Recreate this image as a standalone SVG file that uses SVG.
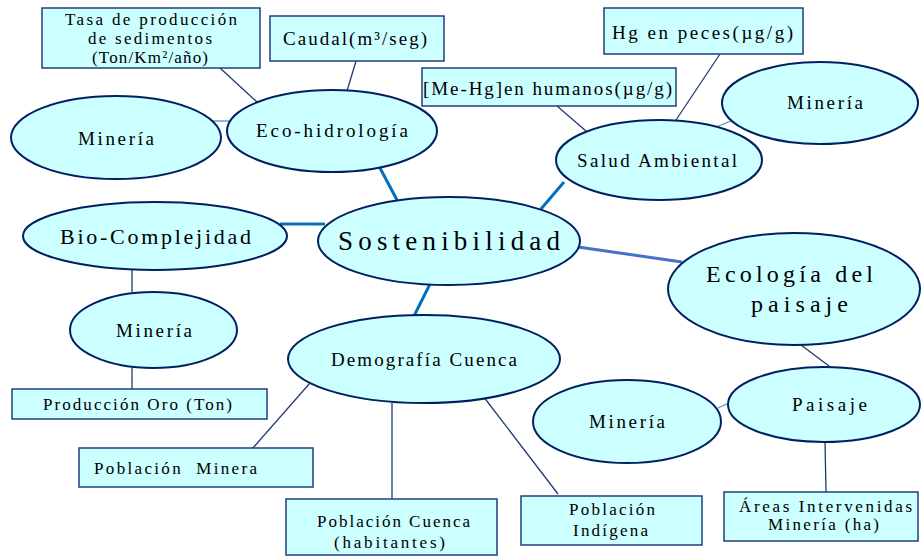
<svg xmlns="http://www.w3.org/2000/svg" width="922" height="558" viewBox="0 0 922 558">
<style>
.n{fill:#CCFFFF;stroke:#002060;stroke-width:2}
.b{fill:#CCFFFF;stroke:#1F3F7F;stroke-width:1.5}
.t{font-family:"Liberation Serif","DejaVu Serif",serif;fill:#000;white-space:pre}
.s16{font-size:17px}
.s18{font-size:19px}
.thick{stroke:#0070C0;stroke-width:3;fill:none}
.mid{stroke:#4472C4;stroke-width:3;fill:none}
.thin{stroke:#1F3B73;stroke-width:1.3;fill:none}
.light{stroke:#5B8BD0;stroke-width:1.3;fill:none}
</style>
<rect width="922" height="558" fill="#fff"/>
<g id="connectors">
<line class="thick" x1="380" y1="168" x2="397" y2="200"/>
<line class="thick" x1="564" y1="182" x2="541" y2="209"/>
<line class="thick" x1="280" y1="224" x2="325" y2="224"/>
<line class="thick" x1="430" y1="284" x2="414" y2="316"/>
<line class="mid" x1="578" y1="247" x2="682" y2="262"/>
<line class="thin" x1="220" y1="68" x2="257" y2="102"/>
<line class="thin" x1="356" y1="61" x2="347" y2="91"/>
<line class="light" x1="212" y1="121" x2="231" y2="121"/>
<line class="thin" x1="557" y1="106" x2="586" y2="131"/>
<line class="thin" x1="720" y1="54" x2="676" y2="120"/>
<line class="light" x1="716" y1="127" x2="731" y2="121"/>
<line class="thin" x1="132" y1="270" x2="132" y2="292"/>
<line class="thin" x1="132" y1="368" x2="132" y2="389"/>
<line class="thin" x1="310" y1="383" x2="252" y2="449"/>
<line class="thin" x1="392" y1="403" x2="392" y2="499"/>
<line class="thin" x1="483" y1="396" x2="558" y2="494"/>
<line class="thin" x1="801" y1="345" x2="829" y2="366"/>
<line class="light" x1="718" y1="408" x2="731" y2="402"/>
<line class="thin" x1="825" y1="442" x2="826" y2="492"/>
</g>
<g id="tasa"><rect class="b" x="42" y="8" width="218" height="60"/>
<text class="t s16" x="65" y="25" textLength="172" lengthAdjust="spacing">Tasa de producción</text>
<text class="t s16" x="88" y="44" textLength="124" lengthAdjust="spacing">de sedimentos</text>
<text class="t s16" x="92" y="63" textLength="116" lengthAdjust="spacing">(Ton/Km²/año)</text></g>
<g id="caudal"><rect class="b" x="270" y="16" width="174" height="45"/>
<text class="t s18" x="283" y="45" textLength="144" lengthAdjust="spacing">Caudal(m³/seg)</text></g>
<g id="mineria1"><ellipse class="n" cx="116" cy="137.5" rx="105" ry="41.5"/>
<text class="t s18" x="78" y="145" textLength="76" lengthAdjust="spacing">Minería</text></g>
<g id="ecohidrologia"><ellipse class="n" cx="332" cy="131" rx="105" ry="41"/>
<text class="t s18" x="256" y="137" textLength="152" lengthAdjust="spacing">Eco-hidrología</text></g>
<g id="mehg"><rect class="b" x="422" y="68" width="254" height="38"/>
<text class="t s18" x="423" y="95" textLength="249" lengthAdjust="spacing">[Me-Hg]en humanos(µg/g)</text></g>
<g id="hgpeces"><rect class="b" x="604" y="8" width="199" height="46"/>
<text class="t s18" x="612" y="39" textLength="181" lengthAdjust="spacing">Hg en peces(µg/g)</text></g>
<g id="mineria2"><ellipse class="n" cx="820" cy="103" rx="98" ry="41"/>
<text class="t s18" x="787" y="109" textLength="76" lengthAdjust="spacing">Minería</text></g>
<g id="salud"><ellipse class="n" cx="659" cy="160" rx="103" ry="40"/>
<text class="t s18" x="577" y="167" textLength="160" lengthAdjust="spacing">Salud Ambiental</text></g>
<g id="sostenibilidad"><ellipse class="n" cx="449" cy="241" rx="131" ry="44"/>
<text class="t" style="font-size:27px" x="338" y="250" textLength="222" lengthAdjust="spacing">Sostenibilidad</text></g>
<g id="biocomplejidad"><ellipse class="n" cx="155" cy="236" rx="132" ry="34"/>
<text class="t" style="font-size:22px" x="60" y="244" textLength="191" lengthAdjust="spacing">Bio-Complejidad</text></g>
<g id="mineria3"><ellipse class="n" cx="153.5" cy="330" rx="83.5" ry="38"/>
<text class="t s18" x="116" y="337" textLength="76" lengthAdjust="spacing">Minería</text></g>
<g id="produccion"><rect class="b" x="12" y="389" width="255" height="30"/>
<text class="t s16" x="43" y="410" textLength="189" lengthAdjust="spacing">Producción Oro (Ton)</text></g>
<g id="demografia"><ellipse class="n" cx="424" cy="359" rx="136" ry="44"/>
<text class="t s18" x="331" y="366" textLength="186" lengthAdjust="spacing">Demografía Cuenca</text></g>
<g id="ecologia"><ellipse class="n" cx="794" cy="289" rx="126" ry="56"/>
<text class="t" style="font-size:24px" x="706" y="282" textLength="167" lengthAdjust="spacing">Ecología del</text>
<text class="t" style="font-size:24px" x="751" y="312" textLength="97" lengthAdjust="spacing">paisaje</text></g>
<g id="paisaje"><ellipse class="n" cx="824" cy="404.5" rx="96" ry="37.5"/>
<text class="t s18" x="792" y="411" textLength="75" lengthAdjust="spacing">Paisaje</text></g>
<g id="mineria4"><ellipse class="n" cx="627" cy="421.5" rx="94" ry="41.5"/>
<text class="t s18" x="589" y="428" textLength="76" lengthAdjust="spacing">Minería</text></g>
<g id="poblacionminera"><rect class="b" x="79" y="448" width="234" height="39"/>
<text class="t s16" x="94" y="474" textLength="163" lengthAdjust="spacing">Población  Minera</text></g>
<g id="poblacioncuenca"><rect class="b" x="286" y="499" width="211" height="56"/>
<text class="t s16" x="317" y="527" textLength="153" lengthAdjust="spacing">Población Cuenca</text>
<text class="t s16" x="334" y="548" textLength="111" lengthAdjust="spacing">(habitantes)</text></g>
<g id="poblacionindigena"><rect class="b" x="521" y="496" width="181" height="49"/>
<text class="t s16" x="569" y="515" textLength="86" lengthAdjust="spacing">Población</text>
<text class="t s16" x="573" y="536" textLength="75" lengthAdjust="spacing">Indígena</text></g>
<g id="areas"><rect class="b" x="724" y="492" width="194" height="49"/>
<text class="t s16" x="739" y="512" textLength="173" lengthAdjust="spacing">Áreas Intervenidas</text>
<text class="t s16" x="768" y="530" textLength="111" lengthAdjust="spacing">Minería (ha)</text></g>
</svg>
